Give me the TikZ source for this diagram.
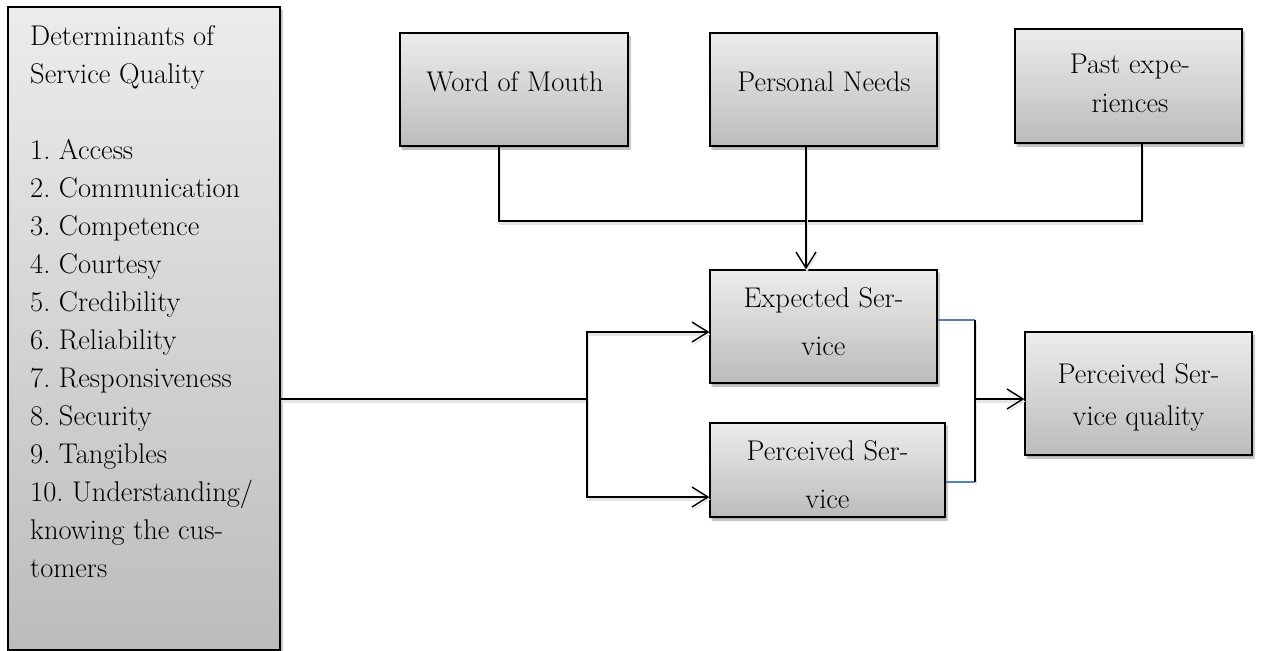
\documentclass[tikz,border=0pt]{standalone}
\usetikzlibrary{arrows.meta,shadows.blur}
\definecolor{boxtop}{RGB}{236,236,236}
\definecolor{boxbot}{RGB}{188,188,188}
\definecolor{linkblue}{RGB}{79,129,189}
\newcommand{\txtsize}[1]{\fontsize{28.5}{#1}\selectfont\frenchspacing}
\tikzset{
  box/.style={rectangle, draw=black, line width=1.4pt, inner sep=0pt,
    top color=boxtop, bottom color=boxbot,
    blur shadow={shadow xshift=2pt, shadow yshift=-3pt, shadow blur steps=6, shadow opacity=35}},
  lbl/.style={inner sep=0pt, align=center},
  link/.style={line width=1.4pt, draw=black,
    preaction={draw=black!10, line width=2.6pt, transform canvas={shift={(1pt,-2.5pt)}}}},
  arr/.style={link, -{Straight Barb[length=16pt, width=20pt, line width=1.4pt]}},
  blueline/.style={line width=1.1pt, draw=linkblue},
}
\begin{document}
\begin{tikzpicture}[x=1pt, y=-1pt]
\useasboundingbox (0,0) rectangle (1262,651);

% boxes
\node[box, minimum width=272pt, minimum height=643pt] (det) at (144,328.5) {};
\node[box, minimum width=228pt, minimum height=113pt] (wom) at (514,89.5) {};
\node[box, minimum width=227pt, minimum height=113pt] (pn) at (823.5,89.5) {};
\node[box, minimum width=227pt, minimum height=114pt] (past) at (1128.5,86) {};
\node[box, minimum width=227pt, minimum height=113pt] (exp) at (823.5,326.5) {};
\node[box, minimum width=235pt, minimum height=94pt] (per) at (827.5,470) {};
\node[box, minimum width=227pt, minimum height=123pt] (psq) at (1138.5,393.5) {};

% texts
\node[lbl, anchor=north west, align=left, font=\txtsize{38}] (dettxt) at (30,25)
  {Determinants of\\Service Quality\\[38pt]1. Access\\2. Communication\\3. Competence\\4. Courtesy\\5. Credibility\\6. Reliability\\7. Responsiveness\\8. Security\\9. Tangibles\\10. Understanding/\\knowing the cus-\\tomers};
\node[lbl, anchor=base, font=\txtsize{38}] (womtxt) at (515,91) {Word of Mouth};
\node[lbl, anchor=base, font=\txtsize{38}] (pntxt) at (824,91) {Personal Needs};
\node[lbl, anchor=north, font=\txtsize{39}] (pasttxt) at (1130,53.5) {Past expe-\\riences};
\node[lbl, anchor=north, font=\txtsize{48}] (exptxt) at (823.5,287) {Expected Ser-\\vice};
\node[lbl, anchor=north, font=\txtsize{48}] (pertxt) at (827.5,440) {Perceived Ser-\\vice};
\node[lbl, anchor=north, font=\txtsize{42}] (psqtxt) at (1138.5,363) {Perceived Ser-\\vice quality};

% connectors from the three top boxes
\coordinate (h1) at (499,221);
\coordinate (h3) at (806,221);
\coordinate (h2) at (1142,221);
\draw[link] (wom.south -| h1) -- (h1) -- (h2) -- (past.south -| h2);
\draw[arr] (pn.south -| h3) -- (exp.north -| h3);

% determinants split to expected and perceived service
\coordinate (sp) at (587,399);
\coordinate (su) at (587,332);
\coordinate (sd) at (587,497);
\draw[link] (det.east |- sp) -- (sp);
\draw[arr] (sp) |- (exp.west |- su);
\draw[arr] (sp) |- (per.west |- sd);

% gap between expected and perceived service
\coordinate (mt) at (975,320);
\coordinate (mb) at (975,482);
\coordinate (mm) at (975,399);
\draw[blueline] (exp.east |- mt) -- (mt);
\draw[blueline] (per.east |- mb) -- (mb);
\draw[link] (mt) -- (mb);
\draw[arr] (mm) -- (psq.west |- mm);
\end{tikzpicture}
\end{document}
